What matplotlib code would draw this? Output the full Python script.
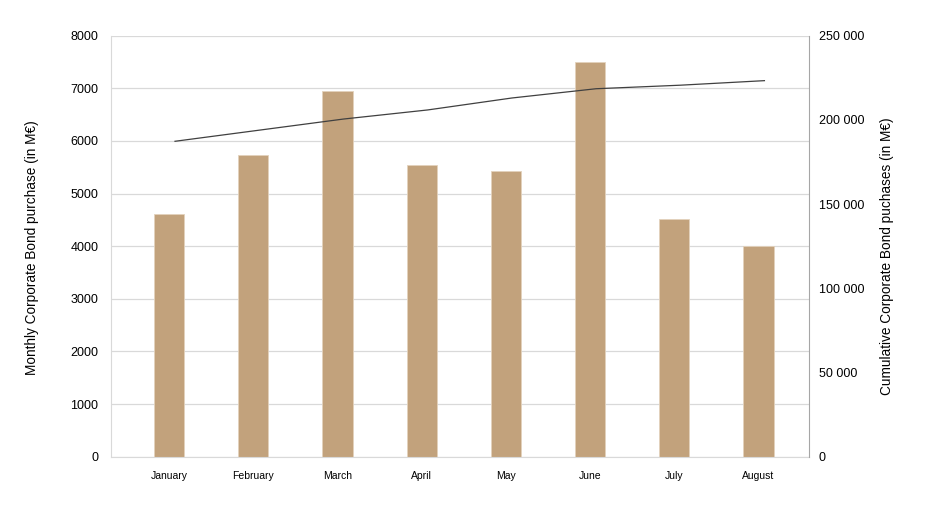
import matplotlib
matplotlib.use("Agg")
import matplotlib.pyplot as plt
from matplotlib.ticker import FuncFormatter, MultipleLocator

plt.rcParams["font.family"] = ["Liberation Sans", "DejaVu Sans"]

# ---------------------------------------------------------------- data
months = ["January", "February", "March", "April", "May", "June", "July", "August"]
monthly = [4608, 5730, 6958, 5551, 5426, 7498, 4519, 4006]          # M€
cumulative = [187300, 193900, 200500, 205900, 213000, 218500, 220600, 223300]  # M€

bar_color = "#C2A27C"
grid_color = "#D9D9D9"

# ---------------------------------------------------------------- plot
fig = plt.figure(figsize=(9.26, 5.15), dpi=100)
ax = fig.add_axes([0.1199, 0.1132, 0.8737 - 0.1199, 0.9307 - 0.1132])

x = list(range(len(months)))
ax.bar(x, monthly, width=0.36, color=bar_color, edgecolor="#E3D2BC",
       linewidth=0.6, zorder=2)

ax.set_xlim(-0.69, 7.60)
ax.set_ylim(0, 8000)
ax.yaxis.set_major_locator(MultipleLocator(1000))
ax.grid(axis="y", color=grid_color, lw=0.9, zorder=0)
ax.set_axisbelow(True)
ax.set_xticks(x)
ax.set_xticklabels(months, fontsize=7.5)
ax.tick_params(axis="x", length=0, pad=10)
ax.tick_params(axis="y", length=0, pad=9, labelsize=9)
ax.set_ylabel("Monthly Corporate Bond purchase (in M€)", fontsize=9.8)
ax.yaxis.set_label_coords(-0.1039, 0.497)

for s in ("top", "right"):
    ax.spines[s].set_visible(False)
ax.spines["left"].set_color(grid_color)
ax.spines["bottom"].set_color(grid_color)

# cumulative line on secondary axis
ax2 = ax.twinx()
ax2.plot([i + 0.07 for i in x], cumulative, color="#404040", lw=0.9, zorder=3)
ax2.set_ylim(0, 250000)
ax2.yaxis.set_major_locator(MultipleLocator(50000))
ax2.yaxis.set_major_formatter(
    FuncFormatter(lambda v, p: f"{int(v):,}".replace(",", " ")))
ax2.tick_params(axis="y", length=0, pad=7, labelsize=9)
ax2.set_ylabel("Cumulative Corporate Bond puchases (in M€)", fontsize=9.8)
ax2.yaxis.set_label_coords(1.1017, 0.4755)
for s in ("top", "left", "bottom"):
    ax2.spines[s].set_visible(False)
ax2.spines["right"].set_color("#A6A6A6")

fig.savefig("out.png", dpi=100)
